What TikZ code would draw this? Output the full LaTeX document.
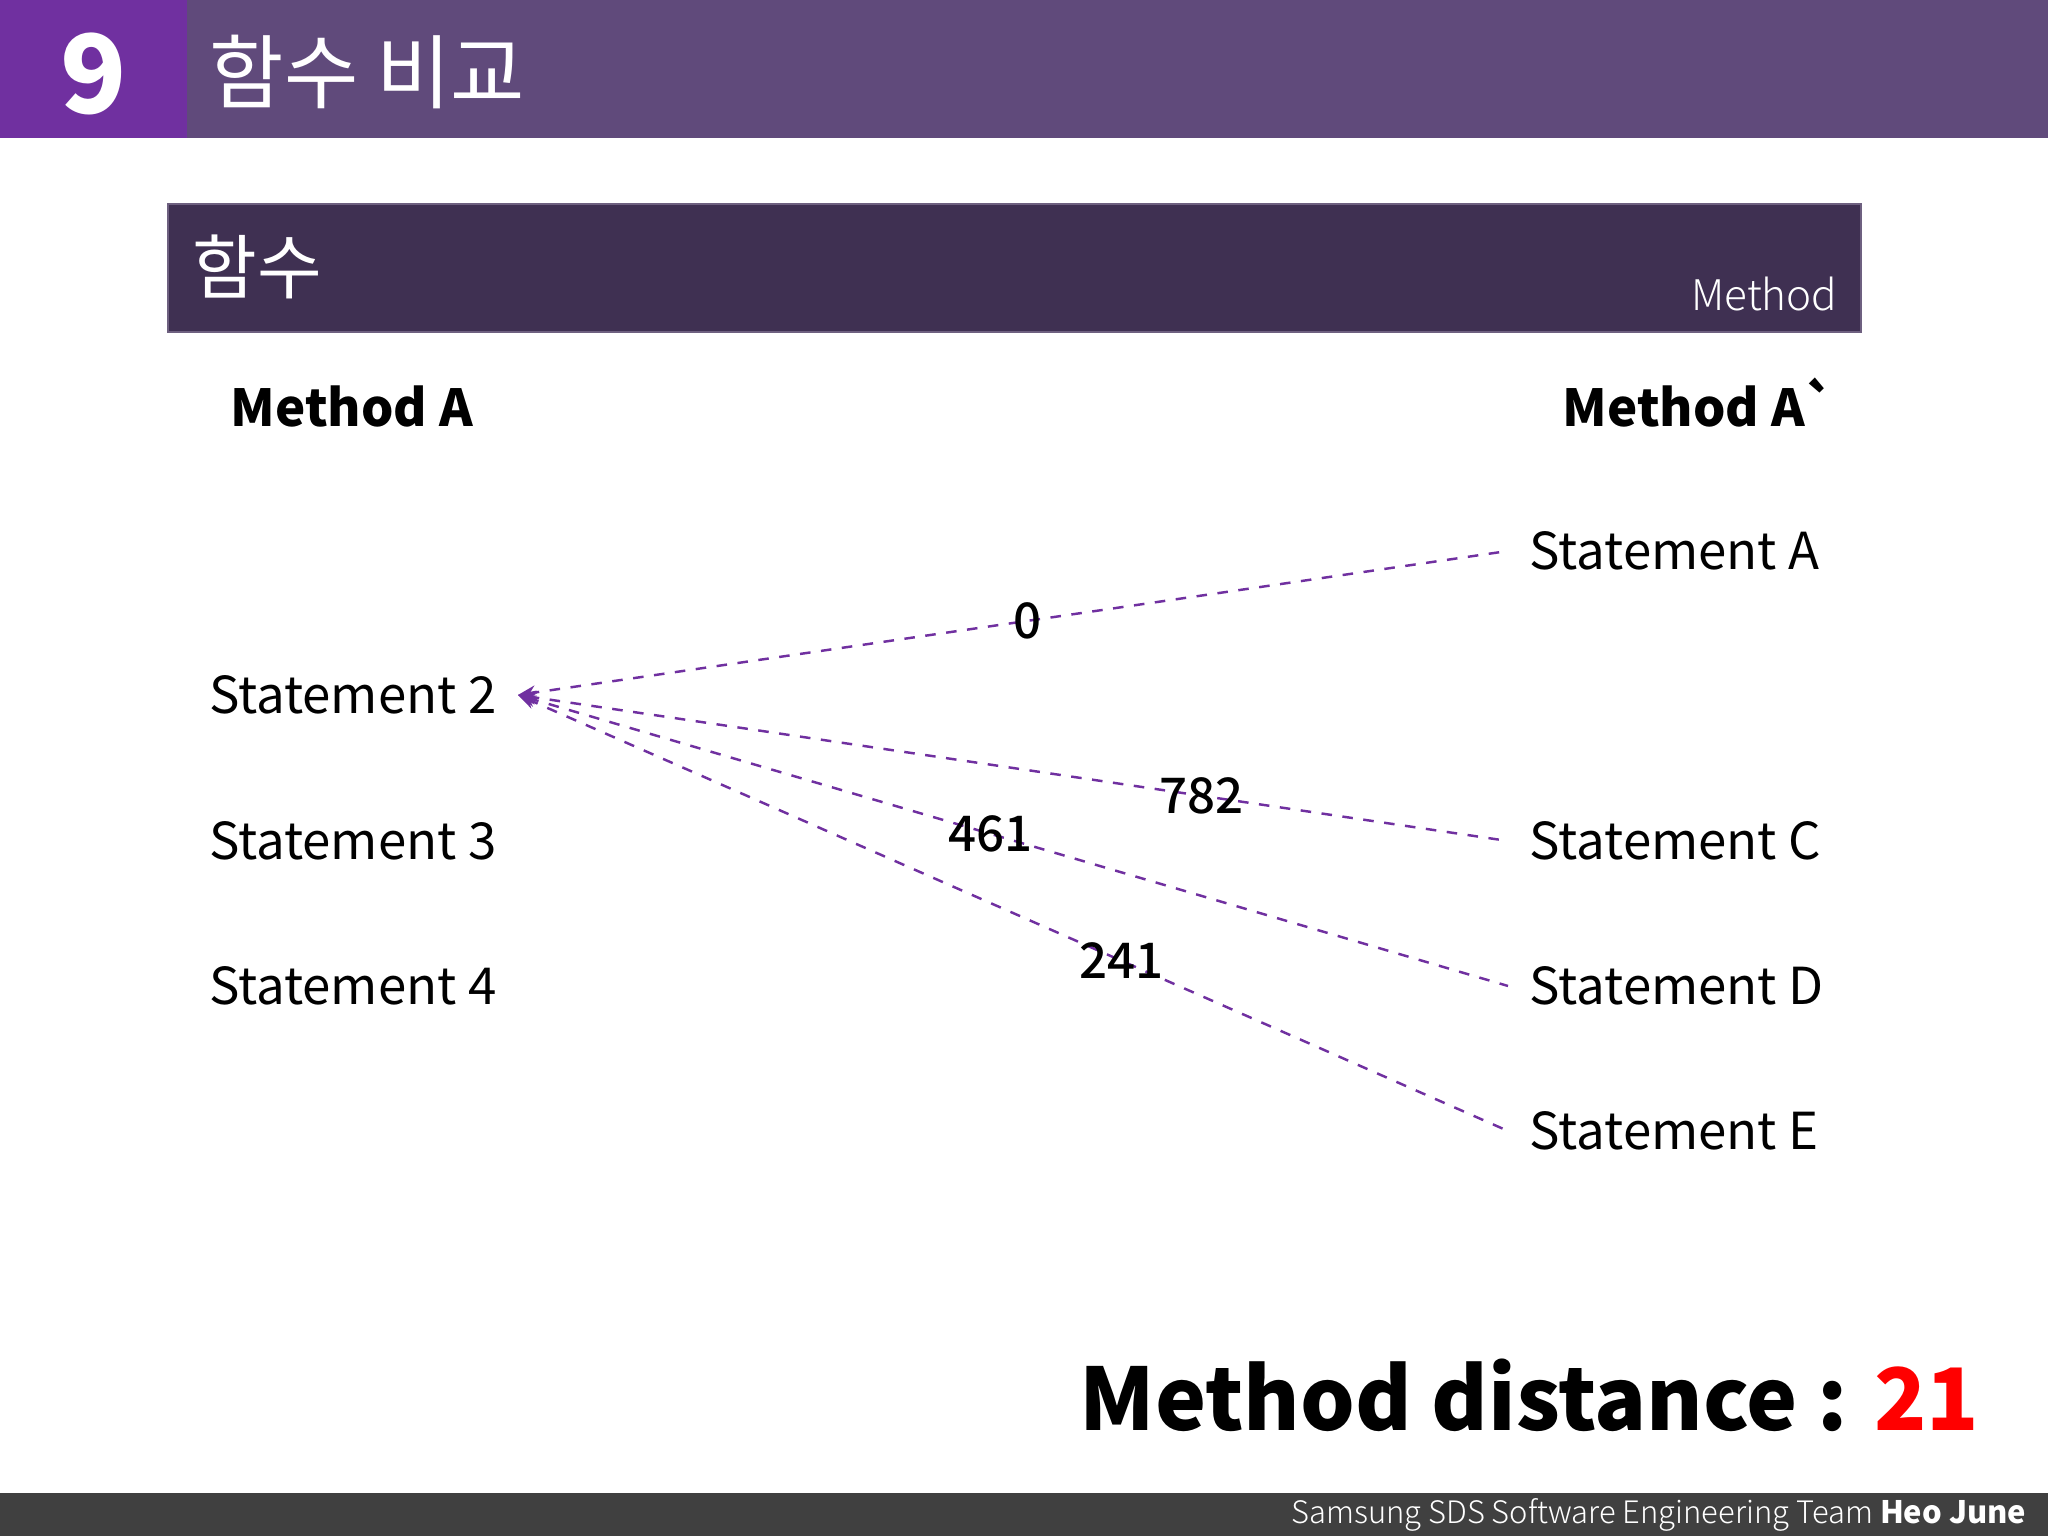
\documentclass[tikz,border=0pt]{standalone}
\usepackage{fontspec}
\setmainfont{Noto Sans CJK KR}
\newfontfamily\krfont{Noto Sans CJK KR}
\newfontfamily\lightfont{Noto Sans CJK KR Light}
\newfontfamily\numfont{Noto Sans CJK KR Medium}
\newfontfamily\gravefont[Ligatures=TeXOff]{Noto Sans CJK KR}
\usetikzlibrary{arrows.meta}
\definecolor{barleft}{RGB}{112,48,160}
\definecolor{barright}{RGB}{96,74,123}
\definecolor{boxdark}{RGB}{63,48,82}
\definecolor{boxedge}{RGB}{110,96,128}
\definecolor{footgray}{RGB}{64,64,64}
\definecolor{linkpurple}{RGB}{112,48,160}

\begin{document}
\begin{tikzpicture}
\useasboundingbox (0,0) rectangle (20.48,15.36);
\tikzset{stmt/.style={inner xsep=0.21cm, inner ysep=0pt, font=\fontsize{14.5}{16}\selectfont},
         link/.style={draw=linkpurple, dashed, line width=0.7pt, {Stealth[length=5pt,width=4pt]}-},
         dist/.style={font=\numfont\fontsize{14}{15}\selectfont}}
% Header bar
\fill[barright] (0,13.98) rectangle (20.48,15.36);
\fill[barleft] (0,13.98) rectangle (1.87,15.36);
\node[text=white, font=\fontsize{31}{32}\selectfont\bfseries] (num) at (0.94,14.62) {9};
\node[text=white, anchor=west, inner sep=0pt, font=\krfont\fontsize{23}{24}\selectfont] (title) at (2.09,14.64) {함수 비교};
% Section box
\filldraw[fill=boxdark, draw=boxedge, line width=0.4pt] (1.68,12.04) rectangle (18.61,13.32);
\node[text=white, anchor=west, inner sep=0pt, font=\krfont\fontsize{20}{22}\selectfont] (sec) at (1.92,12.69) {함수};
\node[text=white, anchor=base east, inner sep=0pt, font=\lightfont\fontsize{12}{14}\selectfont] (kind) at (18.38,12.25) {Method};
% Column heads
\node[anchor=base west, inner sep=0pt, font=\fontsize{14.5}{16}\selectfont\bfseries] (ma) at (2.30,11.09) {Method A};
\node[anchor=base west, inner sep=0pt, font=\fontsize{14.5}{16}\selectfont\bfseries] (mb) at (15.62,11.09) {Method A{\gravefont\bfseries `}};
% Statements of Method A
\node[stmt, anchor=east] (s2) at (5.18,8.41) {Statement 2};
\node[stmt, anchor=east] (s3) at (5.18,6.95) {Statement 3};
\node[stmt, anchor=east] (s4) at (5.18,5.50) {Statement 4};
% Statements of Method A`
\node[stmt, anchor=west] (sa) at (15.08,9.85) {Statement A};
\node[stmt, anchor=west] (sc) at (15.08,6.95) {Statement C};
\node[stmt, anchor=west] (sd) at (15.08,5.50) {Statement D};
\node[stmt, anchor=west] (se) at (15.08,4.05) {Statement E};
% Distances
\draw[link] (s2.east) -- node[dist, pos=0.515] (d0) {0} (sa.west);
\draw[link] (s2.east) -- node[dist, pos=0.69] (d782) {782} (sc.west);
\draw[link] (s2.east) -- node[dist, pos=0.477] (d461) {461} (sd.west);
\draw[link] (s2.east) -- node[dist, pos=0.61] (d241) {241} (se.west);
% Result
\node[anchor=west, inner sep=0pt, font=\fontsize{24.5}{28}\selectfont\bfseries] (res) at (10.79,1.41) {Method distance : \textcolor{red}{21}};
% Footer
\fill[footgray] (0,0) rectangle (20.48,0.43);
\node[text=white, anchor=east, inner sep=0pt, font=\lightfont\fontsize{8.8}{10}\selectfont] (foot) at (20.27,0.21) {Samsung SDS Software Engineering Team {\krfont\bfseries Heo June}};
\end{tikzpicture}
\end{document}
